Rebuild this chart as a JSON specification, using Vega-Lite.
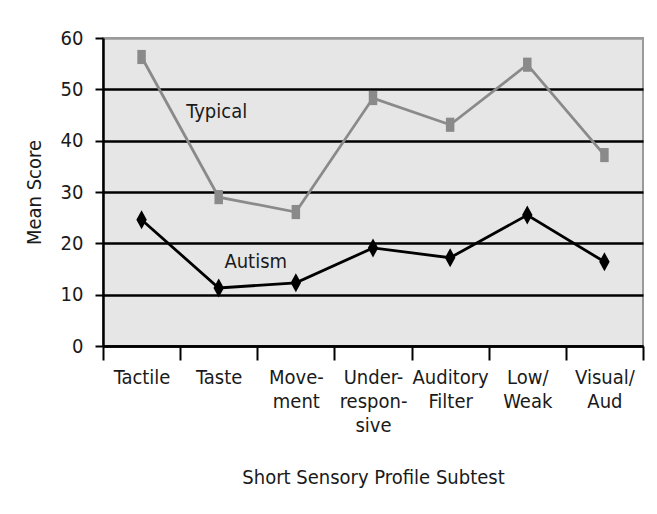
{
  "$schema": "https://vega.github.io/schema/vega-lite/v6.json",
  "width": 540,
  "height": 308,
  "autosize": {"type": "none"},
  "padding": {"left": 103, "top": 38, "right": 14, "bottom": 168},
  "background": "white",
  "config": {
    "font": "DejaVu Sans Condensed, sans-serif",
    "view": {"fill": "#e6e6e6", "stroke": "#9a9a9a", "strokeWidth": 2}
  },
  "data": {
    "values": [
      {"subtest": "Tactile", "group": "Typical", "score": 56.3},
      {"subtest": "Taste", "group": "Typical", "score": 29.0},
      {"subtest": "Move-|ment", "group": "Typical", "score": 26.1},
      {"subtest": "Under-|respon-|sive", "group": "Typical", "score": 48.3},
      {"subtest": "Auditory|Filter", "group": "Typical", "score": 43.1},
      {"subtest": "Low/|Weak", "group": "Typical", "score": 54.8},
      {"subtest": "Visual/|Aud", "group": "Typical", "score": 37.2},
      {"subtest": "Tactile", "group": "Autism", "score": 24.6},
      {"subtest": "Taste", "group": "Autism", "score": 11.3},
      {"subtest": "Move-|ment", "group": "Autism", "score": 12.3},
      {"subtest": "Under-|respon-|sive", "group": "Autism", "score": 19.1},
      {"subtest": "Auditory|Filter", "group": "Autism", "score": 17.2},
      {"subtest": "Low/|Weak", "group": "Autism", "score": 25.5},
      {"subtest": "Visual/|Aud", "group": "Autism", "score": 16.4}
    ]
  },
  "encoding": {
    "x": {
      "field": "subtest",
      "type": "nominal",
      "sort": null,
      "scale": {"paddingInner": 0, "paddingOuter": 0},
      "axis": {
        "title": "Short Sensory Profile Subtest",
        "tickBand": "extent",
        "grid": false,
        "domainColor": "black",
        "domainWidth": 2.5,
        "tickColor": "black",
        "tickWidth": 2,
        "tickSize": 14,
        "labelAngle": 0,
        "labelFontSize": 20,
        "labelColor": "#1a1a1a",
        "labelPadding": 7,
        "labelLineHeight": 24,
        "labelExpr": "split(datum.label, '|')",
        "titleFontSize": 20,
        "titleFontWeight": "normal",
        "titleColor": "#1a1a1a",
        "titlePadding": 32
      }
    },
    "y": {
      "field": "score",
      "type": "quantitative",
      "scale": {"domain": [0, 60], "nice": false},
      "axis": {
        "title": "Mean Score",
        "values": [0, 10, 20, 30, 40, 50, 60],
        "grid": true,
        "gridColor": {"condition": {"test": "datum.value == 60", "value": "#9a9a9a"}, "value": "black"},
        "gridWidth": 2.5,
        "gridOpacity": 1,
        "domainColor": "black",
        "domainWidth": 2.5,
        "tickColor": "black",
        "tickWidth": 2,
        "tickSize": 8,
        "labelPadding": 12,
        "labelFontSize": 20,
        "labelColor": "#1a1a1a",
        "titleFontSize": 20,
        "titleFontWeight": "normal",
        "titleColor": "#1a1a1a",
        "titlePadding": 16
      }
    }
  },
  "layer": [
    {
      "mark": {"type": "line", "strokeWidth": 2.8},
      "encoding": {
        "color": {
          "field": "group",
          "type": "nominal",
          "scale": {"domain": ["Typical", "Autism"], "range": ["#8a8a8a", "#000000"]},
          "legend": null
        }
      }
    },
    {
      "mark": {"type": "point", "filled": true, "opacity": 1},
      "encoding": {
        "color": {
          "field": "group",
          "type": "nominal",
          "scale": {"domain": ["Typical", "Autism"], "range": ["#7a7a7a", "#000000"]},
          "legend": null
        },
        "shape": {
          "field": "group",
          "type": "nominal",
          "scale": {"domain": ["Typical", "Autism"], "range": ["M-0.6,-1L0.6,-1L0.6,1L-0.6,1Z", "M0,-1L0.55,0L0,1L-0.55,0Z"]},
          "legend": null
        },
        "size": {
          "field": "group",
          "type": "nominal",
          "scale": {"domain": ["Typical", "Autism"], "range": [200, 360]},
          "legend": null
        }
      }
    },
    {
      "data": {"values": [{"label": "Typical", "subtest": "Taste", "score": 45.6}]},
      "mark": {"type": "text", "fontSize": 20, "color": "#1a1a1a", "dx": -2},
      "encoding": {"text": {"field": "label"}}
    },
    {
      "data": {"values": [{"label": "Autism", "subtest": "Taste", "score": 16.4}]},
      "mark": {"type": "text", "fontSize": 20, "color": "#1a1a1a", "dx": 37},
      "encoding": {"text": {"field": "label"}}
    }
  ]
}
